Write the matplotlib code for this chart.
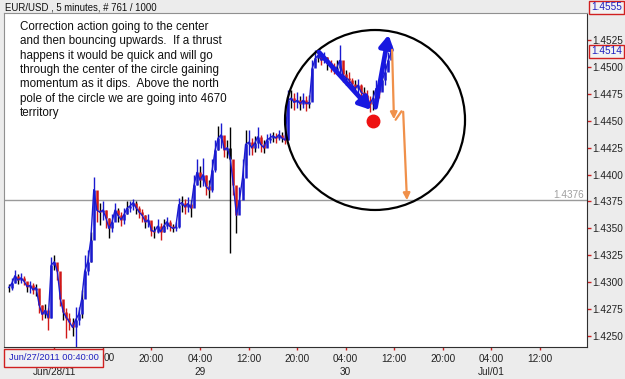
import matplotlib
matplotlib.use("Agg")
import matplotlib.pyplot as plt
import numpy as np
from matplotlib.patches import Ellipse, Rectangle

plt.rcParams['font.family'] = ['Liberation Sans', 'DejaVu Sans']

# ---- data: EUR/USD 30-minute summaries ----
start_hour = -3.5          # hours relative to Jun 28 2011 00:00
step_hours = 0.5
close = [1.4295, 1.4299, 1.4306, 1.4302, 1.4304, 1.4301, 1.4296, 1.4297, 1.4293, 1.4295,
         1.4279, 1.4270, 1.4274, 1.4267, 1.4316, 1.4319, 1.4310, 1.4284, 1.4272, 1.4267,
         1.4263, 1.4258, 1.4265, 1.4270, 1.4284, 1.4310, 1.4319, 1.4339, 1.4386, 1.4367,
         1.4365, 1.4367, 1.4360, 1.4350, 1.4356, 1.4367, 1.4362, 1.4358, 1.4363, 1.4369,
         1.4371, 1.4374, 1.4369, 1.4365, 1.4362, 1.4356, 1.4358, 1.4348, 1.4347, 1.4352,
         1.4347, 1.4352, 1.4356, 1.4352, 1.4350, 1.4351, 1.4372, 1.4374, 1.4370, 1.4373,
         1.4369, 1.4390, 1.4402, 1.4395, 1.4400, 1.4389, 1.4386, 1.4404, 1.4423, 1.4434,
         1.4437, 1.4423, 1.4425, 1.4414, 1.4390, 1.4362, 1.4376, 1.4397, 1.4428, 1.4430,
         1.4425, 1.4429, 1.4435, 1.4428, 1.4425, 1.4432, 1.4434, 1.4436, 1.4434, 1.4437,
         1.4434, 1.4432, 1.4469, 1.4471, 1.4467, 1.4469, 1.4466, 1.4469, 1.4466, 1.4467,
         1.4499, 1.4508, 1.4511, 1.4506, 1.4509, 1.4504, 1.4501, 1.4497, 1.4499, 1.4506,
         1.4493, 1.4490, 1.4488, 1.4484, 1.4480, 1.4483, 1.4477, 1.4474, 1.4469, 1.4466,
         1.4471, 1.4480, 1.4477, 1.4488, 1.4495, 1.4506, 1.4514]
high = [1.4298, 1.4304, 1.4311, 1.4308, 1.4309, 1.4306, 1.4300, 1.4301, 1.4299, 1.4298,
        1.4288, 1.4279, 1.4280, 1.4276, 1.4323, 1.4325, 1.4316, 1.4297, 1.4282, 1.4276,
        1.4271, 1.4267, 1.4277, 1.4277, 1.4293, 1.4325, 1.4330, 1.4347, 1.4398, 1.4378,
        1.4374, 1.4375, 1.4367, 1.4360, 1.4363, 1.4374, 1.4369, 1.4365, 1.4369, 1.4375,
        1.4375, 1.4377, 1.4375, 1.4371, 1.4368, 1.4362, 1.4363, 1.4356, 1.4352, 1.4359,
        1.4355, 1.4359, 1.4361, 1.4358, 1.4354, 1.4356, 1.4378, 1.4380, 1.4377, 1.4379,
        1.4376, 1.4400, 1.4414, 1.4408, 1.4415, 1.4400, 1.4395, 1.4414, 1.4432, 1.4445,
        1.4448, 1.4432, 1.4432, 1.4444, 1.4406, 1.4376, 1.4388, 1.4414, 1.4441, 1.4441,
        1.4434, 1.4436, 1.4444, 1.4437, 1.4432, 1.4438, 1.4439, 1.4440, 1.4439, 1.4441,
        1.4440, 1.4438, 1.4479, 1.4479, 1.4476, 1.4477, 1.4473, 1.4476, 1.4473, 1.4474,
        1.4506, 1.4516, 1.4516, 1.4513, 1.4514, 1.4509, 1.4506, 1.4504, 1.4506, 1.4520,
        1.4499, 1.4497, 1.4495, 1.4490, 1.4488, 1.4489, 1.4484, 1.4481, 1.4479, 1.4473,
        1.4479, 1.4488, 1.4486, 1.4499, 1.4504, 1.4514, 1.4520]
low = [1.4291, 1.4293, 1.4299, 1.4298, 1.4299, 1.4297, 1.4291, 1.4290, 1.4289, 1.4287,
       1.4271, 1.4265, 1.4267, 1.4256, 1.4267, 1.4311, 1.4302, 1.4278, 1.4265, 1.4248,
       1.4256, 1.4250, 1.4240, 1.4260, 1.4267, 1.4297, 1.4307, 1.4319, 1.4353, 1.4356,
       1.4353, 1.4358, 1.4350, 1.4341, 1.4347, 1.4360, 1.4356, 1.4352, 1.4354, 1.4363,
       1.4365, 1.4367, 1.4363, 1.4360, 1.4356, 1.4350, 1.4351, 1.4343, 1.4341, 1.4346,
       1.4339, 1.4347, 1.4349, 1.4348, 1.4347, 1.4348, 1.4350, 1.4365, 1.4363, 1.4365,
       1.4361, 1.4372, 1.4390, 1.4388, 1.4389, 1.4381, 1.4378, 1.4384, 1.4402, 1.4423,
       1.4425, 1.4416, 1.4415, 1.4327, 1.4381, 1.4346, 1.4369, 1.4381, 1.4409, 1.4418,
       1.4418, 1.4421, 1.4425, 1.4421, 1.4420, 1.4426, 1.4429, 1.4430, 1.4429, 1.4432,
       1.4430, 1.4428, 1.4432, 1.4462, 1.4460, 1.4462, 1.4460, 1.4462, 1.4459, 1.4462,
       1.4469, 1.4501, 1.4505, 1.4502, 1.4504, 1.4497, 1.4495, 1.4493, 1.4494, 1.4493,
       1.4486, 1.4483, 1.4481, 1.4479, 1.4475, 1.4474, 1.4471, 1.4467, 1.4464, 1.4458,
       1.4460, 1.4469, 1.4471, 1.4479, 1.4483, 1.4497, 1.4508]

y_ticks = [1.4250, 1.4275, 1.4300, 1.4325, 1.4350, 1.4375, 1.4400, 1.4425,
           1.4450, 1.4475, 1.4500, 1.4525]
x_tick_hours = [4, 12, 20, 28, 36, 44, 52, 60, 68, 76, 84]
# the first two time labels are hidden behind the date box in the reference
x_tick_labels = ["", "", "20:00", "04:00", "12:00", "20:00",
                 "04:00", "12:00", "20:00", "04:00", "12:00"]
day_hours = [4, 28, 52, 76]
day_labels = ["Jun/28/11", "29", "30", "Jul/01"]
ref_level = 1.4376
last_price = 1.4514
max_price = 1.4555

W, H = 625, 379
fig = plt.figure(figsize=(W / 100, H / 100), dpi=100)
fig.patch.set_facecolor('#ececec')

def fx(px):
    return px / W

def fy(py):
    return 1 - py / H

L, R, T, B = 4, 586.7, 13, 347
ax = fig.add_axes([fx(L), fy(B), fx(R) - fx(L), fy(T) - fy(B)])
ax.set_facecolor('white')
ax.set_xlim(-4.29, 91.7)
ax.set_ylim(1.42398, 1.45501)

n = len(close)
t = start_hour + step_hours * np.arange(n)
opens = [close[0]] + close[:-1]
cols = []
for i in range(n):
    if i == 73:
        cols.append('black')
    elif close[i] >= opens[i]:
        cols.append('#1a1ad0')
    else:
        cols.append('#d01818')

ax.axhline(ref_level, color='#9a9a9a', lw=1, zorder=1)
ax.vlines(t, low, high, colors=['black' if i % 3 == 0 or i == 73 else c for i, c in enumerate(cols)],
          lw=1.0, zorder=2)
ax.vlines(t, np.minimum(opens, close), np.maximum(opens, close), colors=cols, lw=1.8, zorder=3)
ax.plot(t, close, color='#1a1ad0', lw=1.0, zorder=4)

# circle, arrows, dot
ax.add_patch(Ellipse((56.83, 1.44507), 29.65, 0.01672, fill=False, ec='black', lw=1.6, zorder=5))
ax.plot([56.5], [1.44498], 'o', color='#ee1111', ms=9, zorder=7)
blue = '#1818e0'
ax.annotate('', xy=(56.5, 1.44581), xytext=(47.28, 1.45157),
            arrowprops=dict(arrowstyle='-|>,head_length=0.7,head_width=0.4', color=blue, lw=3.4), zorder=6)
ax.annotate('', xy=(59.14, 1.45324), xytext=(56.83, 1.44600),
            arrowprops=dict(arrowstyle='-|>,head_length=0.7,head_width=0.4', color=blue, lw=3.4), zorder=6)
orange = '#f0904a'
ax.annotate('', xy=(59.96, 1.44488), xytext=(59.63, 1.45185),
            arrowprops=dict(arrowstyle='-|>,head_length=0.4,head_width=0.2', color=orange, lw=1.6), zorder=6)
ax.annotate('', xy=(61.45, 1.44609), xytext=(59.96, 1.44488),
            arrowprops=dict(arrowstyle='-', color=orange, lw=1.6), zorder=6)
ax.annotate('', xy=(62.11, 1.43736), xytext=(61.45, 1.44609),
            arrowprops=dict(arrowstyle='-|>,head_length=0.4,head_width=0.2', color=orange, lw=1.6), zorder=6)

# axes styling
ax.yaxis.tick_right()
ax.set_yticks(y_ticks)
ax.set_yticklabels([f"{v:.4f}" for v in y_ticks])
ax.set_xticks(x_tick_hours)
ax.set_xticklabels(x_tick_labels)
ax.tick_params(axis='y', colors='#cc2020', labelcolor='#222222', length=3, width=1,
               pad=1, labelsize=7.2)
ax.tick_params(axis='x', colors='#cc2020', labelcolor='#222222', length=2, width=1,
               pad=3, labelsize=7.2)
for s in ['left', 'top']:
    ax.spines[s].set_color('#909090')
for s in ['right', 'bottom']:
    ax.spines[s].set_color('#303030')

# day labels under the time labels
for h, lab in zip(day_hours, day_labels):
    ax.text(h, fy(372), lab, transform=ax.get_xaxis_transform().__class__(ax.transData, fig.transFigure),
            ha='center', va='center', fontsize=7.2, color='#222222', clip_on=False)

ax.text(0.995, ref_level + 0.00004, f"{ref_level:.4f}", transform=ax.get_yaxis_transform(),
        ha='right', va='bottom', color='#a0a0a0', fontsize=7.2)

note = ("Correction action going to the center\n"
        "and then bouncing upwards.  If a thrust\n"
        "happens it would be quick and will go\n"
        "through the center of the circle gaining\n"
        "momentum as it dips.  Above the north\n"
        "pole of the circle we are going into 4670\n"
        "territory")
fig.text(fx(20), fy(21), note, ha='left', va='top', fontsize=8.4, color='#111111',
         linespacing=1.26)

fig.text(fx(5), fy(7), "EUR/USD , 5 minutes, # 761 / 1000", ha='left', va='center',
         fontsize=6.9, color='#111111')

# visible right half of the hidden "12:00" label next to the date box
fig.text(fx(103.5), fy(358), "00", ha='left', va='center', fontsize=7.2, color='#222222')

# boxed labels
def boxed(x0, y0, w, h, txt, fs):
    fig.patches.append(Rectangle((fx(x0), fy(y0 + h)), w / W, h / H, transform=fig.transFigure,
                                 facecolor='#f2f2f2', edgecolor='#d02020', lw=1, zorder=10))
    fig.text(fx(x0 + w / 2), fy(y0 + h / 2), txt, ha='center', va='center', fontsize=fs,
             color='#2020c0', zorder=11)

boxed(589, 1, 35, 13, f"{max_price:.4f}", 7.2)
boxed(589, 45, 35, 13, f"{last_price:.4f}", 7.2)
boxed(4, 349, 99, 18, "Jun/27/2011 00:40:00", 6.7)

fig.savefig("out.png", dpi=100, facecolor=fig.get_facecolor())
